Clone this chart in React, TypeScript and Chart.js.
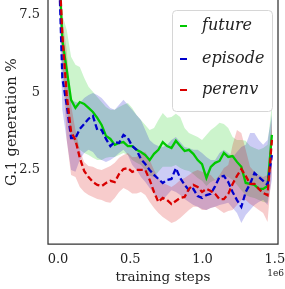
import React, { useEffect, useRef } from 'react';
import { Chart, registerables } from 'chart.js';

Chart.register(...registerables);

// training steps grid (x positions of the samples)
const STEPS: number[] = Array.from({ length: 50 }, (_, i) => i * 30200);

const X_TICKS = [0, 500000, 1000000, 1500000];
const Y_TICKS = [2.5, 5, 7.5];

const SERIES_NAMES = ['future', 'episode', 'perenv'];

const FUTURE_MEAN = [10, 6.69, 5.73, 4.76, 4.5, 4.69, 4.63, 4.5, 4.37, 4.18, 3.95, 3.6, 3.5, 3.31, 3.37, 3.4, 3.27, 3.27, 3.15, 3.08, 2.98, 2.82, 3.02, 3.15, 3.4, 3.27, 3.21, 3.44, 3.27, 3.11, 3.15, 3.02, 2.82, 2.69, 2.24, 2.6, 2.73, 2.79, 3.05, 2.92, 2.95, 2.76, 2.6, 2.08, 2.05, 2.02, 1.89, 1.89, 1.98, 3.63];
const FUTURE_UPPER = [10.5, 7.5, 7.02, 6.15, 5.89, 5.82, 5.47, 5.18, 5.02, 4.85, 4.69, 4.53, 4.44, 4.44, 4.53, 4.6, 4.66, 4.5, 4.27, 4.11, 3.95, 3.79, 3.85, 4.11, 4.34, 4.18, 4.21, 4.31, 4.21, 3.85, 3.69, 3.63, 3.56, 3.47, 3.63, 3.79, 3.89, 4.02, 3.98, 3.85, 3.56, 3.47, 3.47, 3.44, 3.27, 3.21, 3.15, 3.21, 3.31, 4.6];
const FUTURE_LOWER = [9.5, 5.73, 4.44, 3.63, 3.31, 3.15, 3.05, 2.98, 2.89, 2.82, 2.82, 2.89, 2.92, 2.92, 2.98, 3.05, 2.98, 2.82, 2.73, 2.66, 2.5, 2.31, 2.27, 2.44, 2.6, 2.6, 2.6, 2.66, 2.56, 2.5, 2.47, 2.37, 2.24, 2.15, 1.98, 2.11, 2.18, 2.24, 2.31, 2.27, 2.18, 2.02, 1.85, 1.69, 1.63, 1.6, 1.53, 1.47, 1.44, 2.82];

const EPISODE_MEAN = [10, 5.47, 4.6, 3.53, 3.53, 3.82, 3.98, 4.15, 4.24, 3.79, 3.79, 3.5, 3.27, 3.4, 3.37, 3.63, 3.53, 3.27, 3.15, 2.85, 2.69, 2.5, 2.34, 2.21, 2.08, 2.18, 2.21, 2.56, 2.24, 2.02, 1.85, 1.89, 1.66, 1.6, 1.69, 1.73, 1.98, 2.27, 2.31, 2.11, 1.79, 1.53, 1.31, 1.79, 2.05, 2.4, 2.27, 2.15, 2.02, 2.98];
const EPISODE_UPPER = [10.5, 7.02, 5.89, 4.76, 4.69, 4.66, 4.82, 4.92, 4.98, 4.92, 4.82, 4.66, 4.5, 4.44, 4.6, 4.76, 4.6, 4.44, 4.27, 4.11, 3.79, 3.47, 3.34, 3.27, 3.24, 3.31, 3.47, 3.56, 3.4, 3.24, 3.21, 3.15, 3.15, 3.05, 2.92, 2.82, 2.82, 3.05, 3.15, 3.05, 2.92, 3.08, 3.24, 3.31, 3.69, 3.69, 3.47, 3.31, 3.47, 4.27];
const EPISODE_LOWER = [9.5, 4.44, 3.47, 2.5, 2.44, 2.82, 3.05, 3.15, 3.08, 2.89, 2.82, 2.76, 2.82, 2.92, 3.05, 3.15, 2.98, 2.66, 2.5, 2.27, 2.11, 1.92, 1.73, 1.6, 1.53, 1.69, 1.85, 1.79, 1.69, 1.56, 1.47, 1.37, 1.31, 1.24, 1.21, 1.27, 1.31, 1.37, 1.4, 1.44, 1.27, 1.11, 0.79, 1.05, 1.21, 1.37, 1.47, 1.53, 1.37, 2.18];

const PERENV_MEAN = [10, 6.85, 4.92, 3.73, 3.47, 2.89, 2.47, 2.27, 2.11, 2.02, 1.98, 2.08, 2.15, 2.11, 2.37, 2.53, 2.56, 2.44, 2.5, 2.5, 2.5, 2.18, 1.79, 1.47, 1.6, 1.53, 1.4, 1.5, 1.6, 1.63, 1.89, 2.02, 1.95, 1.79, 1.89, 1.82, 1.73, 1.56, 1.56, 1.73, 2.05, 2.31, 2.53, 2.31, 2.05, 2.05, 1.89, 1.76, 1.69, 3.47];
const PERENV_UPPER = [10.5, 7.34, 6.37, 4.6, 3.79, 3.15, 2.76, 2.63, 2.6, 2.53, 2.5, 2.56, 2.63, 2.73, 2.89, 2.98, 3.05, 2.92, 2.92, 3.05, 3.08, 2.82, 2.5, 2.24, 2.08, 2.02, 1.95, 2.05, 2.18, 2.24, 2.34, 2.44, 2.5, 2.44, 2.4, 2.34, 2.18, 2.34, 2.56, 2.66, 3.31, 3.79, 3.69, 3.15, 2.6, 2.44, 2.34, 2.27, 2.34, 4.11];
const PERENV_LOWER = [9.5, 6.05, 3.47, 2.34, 2.27, 1.95, 1.79, 1.69, 1.63, 1.56, 1.53, 1.47, 1.44, 1.6, 1.79, 1.92, 1.85, 1.74, 1.74, 1.79, 1.69, 1.47, 1.27, 1.11, 0.98, 0.89, 0.79, 0.85, 0.95, 1.08, 1.21, 1.31, 1.31, 1.21, 1.21, 1.27, 1.31, 1.21, 1.11, 1.18, 1.21, 1.37, 1.53, 1.53, 1.4, 1.31, 1.21, 1.11, 0.82, 2.5];

const COLORS = ['#00c800', '#0000cc', '#d80000'];
const BAND_COLORS = ['rgba(0,200,0,0.2)', 'rgba(0,0,204,0.2)', 'rgba(216,0,0,0.2)'];
const DASHES: number[][] = [[], [6, 3], [6, 3]];

const FONT = '"DejaVu Serif", serif';

function pts(vals: number[]) {
  return vals.map((y, i) => ({ x: STEPS[i], y }));
}

const decorPlugin = {
  id: 'decor',
  afterDraw(chart: any) {
    const { ctx, chartArea } = chart;
    const { left, right, top, bottom } = chartArea;
    ctx.save();
    // spines
    ctx.strokeStyle = '#333333';
    ctx.lineWidth = 1.25;
    ctx.beginPath();
    ctx.moveTo(left, top - 2);
    ctx.lineTo(left, bottom);
    ctx.lineTo(right, bottom);
    ctx.lineTo(right, top - 2);
    ctx.stroke();

    // axis titles
    ctx.fillStyle = '#222222';
    ctx.font = '13.5px ' + FONT;
    ctx.textAlign = 'center';
    ctx.textBaseline = 'middle';
    ctx.fillText('training steps', (left + right) / 2, 277);
    ctx.font = '9px ' + FONT;
    ctx.textAlign = 'right';
    ctx.fillText('1e6', 284, 274);

    ctx.save();
    ctx.translate(12, (top + bottom) / 2);
    ctx.rotate(-Math.PI / 2);
    ctx.font = '14.5px ' + FONT;
    ctx.textAlign = 'center';
    ctx.textBaseline = 'middle';
    ctx.fillText('G.1 generation %', 0, 0);
    ctx.restore();

    // legend
    const bx = 172.5, by = 10.5, bw = 100, bh = 101;
    ctx.fillStyle = 'rgba(255,255,255,0.85)';
    ctx.strokeStyle = '#d6d6d6';
    ctx.lineWidth = 1;
    ctx.beginPath();
    if (ctx.roundRect) ctx.roundRect(bx, by, bw, bh, 4);
    else ctx.rect(bx, by, bw, bh);
    ctx.fill();
    ctx.stroke();
    const rows = [26, 59, 90];
    SERIES_NAMES.forEach((name, k) => {
      ctx.strokeStyle = COLORS[k];
      ctx.lineWidth = 2;
      ctx.setLineDash([]);
      ctx.beginPath();
      ctx.moveTo(180, rows[k]);
      ctx.lineTo(187, rows[k]);
      ctx.stroke();
      ctx.fillStyle = '#222222';
      ctx.font = 'italic 16px ' + FONT;
      ctx.textAlign = 'left';
      ctx.textBaseline = 'middle';
      ctx.fillText(name, 202, rows[k]);
    });
    ctx.restore();
  },
};

export default function App() {
  const ref = useRef<HTMLCanvasElement | null>(null);
  useEffect(() => {
    document.body.style.margin = '0';
    if (!ref.current) return;
    const means = [FUTURE_MEAN, EPISODE_MEAN, PERENV_MEAN];
    const uppers = [FUTURE_UPPER, EPISODE_UPPER, PERENV_UPPER];
    const lowers = [FUTURE_LOWER, EPISODE_LOWER, PERENV_LOWER];
    const datasets: any[] = [];
    SERIES_NAMES.forEach((name, k) => {
      const bandOrder = 5 - k;
      const lineOrder = 2 - k;
      datasets.push({
        label: name + ' low',
        data: pts(lowers[k]),
        borderWidth: 0,
        pointRadius: 0,
        fill: false,
        order: bandOrder,
      });
      datasets.push({
        label: name + ' high',
        data: pts(uppers[k]),
        borderWidth: 0,
        pointRadius: 0,
        fill: '-1',
        backgroundColor: BAND_COLORS[k],
        order: bandOrder,
      });
      datasets.push({
        label: name,
        data: pts(means[k]),
        borderColor: COLORS[k],
        borderWidth: 2.3,
        borderDash: DASHES[k],
        pointRadius: 0,
        fill: false,
        tension: 0,
        order: lineOrder,
      });
    });

    const chart = new Chart(ref.current, {
      type: 'line',
      data: { datasets },
      options: {
        animation: false,
        responsive: false,
        maintainAspectRatio: false,
        layout: { padding: { top: 0, left: 0, bottom: 0, right: 7 } },
        plugins: { legend: { display: false }, tooltip: { enabled: false } },
        scales: {
          x: {
            type: 'linear',
            min: -69000,
            max: 1522000,
            grid: { display: false, drawTicks: false },
            border: { display: false },
            afterBuildTicks: (s: any) => {
              s.ticks = X_TICKS.map((v) => ({ value: v }));
            },
            afterFit: (s: any) => {
              s.height = 45;
              s.paddingLeft = 0;
              s.paddingRight = 0;
            },
            ticks: {
              padding: 8,
              maxRotation: 0,
              autoSkip: false,
              color: '#222222',
              font: { family: FONT, size: 13 },
              callback: (v: any) => (Number(v) / 1e6).toFixed(1),
            },
          },
          y: {
            type: 'linear',
            min: 0.113,
            max: 7.98,
            grid: { display: false, drawTicks: false },
            border: { display: false },
            afterBuildTicks: (s: any) => {
              s.ticks = Y_TICKS.map((v) => ({ value: v }));
            },
            afterFit: (s: any) => {
              s.width = 48;
              s.paddingTop = 0;
              s.paddingBottom = 0;
            },
            ticks: {
              padding: 8,
              autoSkip: false,
              color: '#222222',
              font: { family: FONT, size: 13 },
              callback: (v: any) => String(v),
            },
          },
        },
      },
      plugins: [decorPlugin],
    });
    return () => chart.destroy();
  }, []);
  return (
    <canvas
      ref={ref}
      width={285}
      height={289}
      style={{ display: 'block', width: 285, height: 289 }}
    />
  );
}
